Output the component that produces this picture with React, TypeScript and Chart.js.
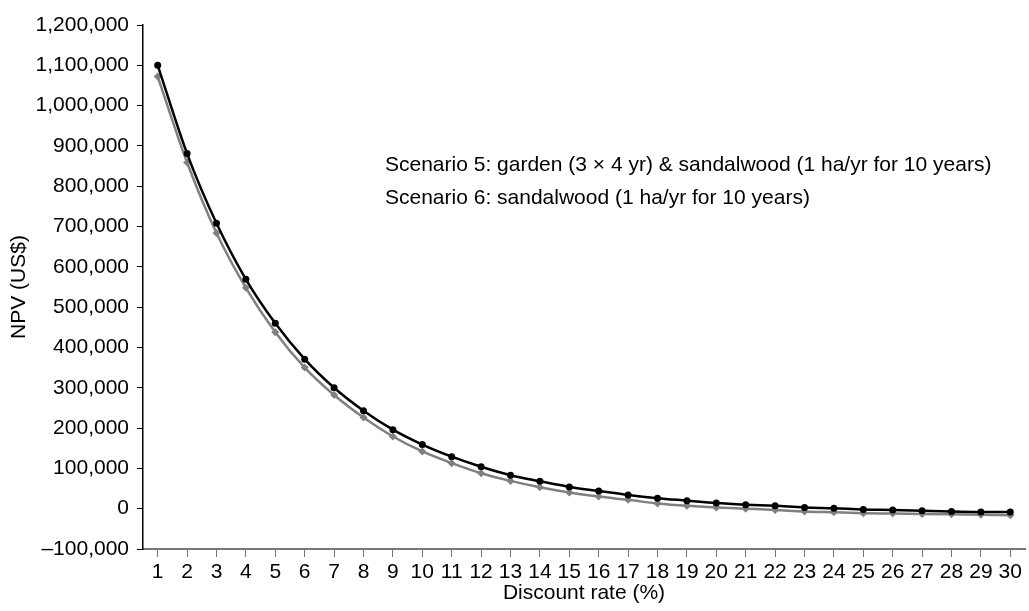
import React, { useEffect, useRef } from "react";
import { Chart, registerables } from "chart.js";

Chart.register(...registerables);

const rates: string[] = Array.from({ length: 30 }, (_, i) => String(i + 1));

const scenario5: number[] = [
  1100000, 881000, 708000, 569000, 460000, 371000, 300000, 243000, 196000, 159000,
  129000, 104000, 83000, 68000, 54000, 44000, 34000, 26000, 20000, 14000,
  10000, 7000, 3000, 1000, -2000, -3000, -5000, -7000, -8000, -8000,
];

const scenario6: number[] = [
  1072000, 859000, 684000, 548000, 438000, 350000, 282000, 226000, 179000, 142000,
  113000, 88000, 69000, 53000, 40000, 30000, 22000, 13000, 7000, 3000,
  0, -3000, -7000, -9000, -11000, -12000, -13000, -14000, -15000, -16000,
];

const legendLabels: string[] = [
  "Scenario 5: garden (3 \u00d7 4 yr) & sandalwood (1 ha/yr for 10 years)",
  "Scenario 6: sandalwood (1 ha/yr for 10 years)",
];

const FONT = "'Liberation Sans', Arial, Helvetica, sans-serif";
const FS = 21;

function fmt(v: number): string {
  const s = Math.abs(v).toLocaleString("en-US");
  return v < 0 ? "\u2013" + s : s;
}

export default function App() {
  const canvasRef = useRef<HTMLCanvasElement | null>(null);

  useEffect(() => {
    document.body.style.margin = "0";
    const canvas = canvasRef.current;
    if (!canvas) return;
    const chart = new Chart(canvas, {
      type: "line",
      data: {
        labels: rates,
        datasets: [
          {
            label: legendLabels[0],
            data: scenario5,
            borderColor: "#000000",
            backgroundColor: "#000000",
            borderWidth: 2.5,
            pointStyle: "circle",
            pointRadius: 3.5,
            pointBorderWidth: 0,
            cubicInterpolationMode: "monotone",
          },
          {
            label: legendLabels[1],
            data: scenario6,
            borderColor: "#808080",
            backgroundColor: "#808080",
            borderWidth: 2.5,
            pointStyle: "rectRot",
            pointRadius: 4,
            pointBorderWidth: 0,
            cubicInterpolationMode: "monotone",
          },
        ],
      },
      options: {
        animation: false,
        responsive: true,
        maintainAspectRatio: false,
        layout: { padding: { top: 25, right: 0, left: 0, bottom: 0 } },
        plugins: {
          legend: { display: false },
          tooltip: { enabled: false },
        },
        scales: {
          x: {
            type: "category",
            offset: true,
            grid: {
              offset: false,
              drawOnChartArea: false,
              drawTicks: true,
              tickLength: 8,
              color: "#777777",
              lineWidth: 1,
            },
            border: { display: true, color: "#777777", width: 2 },
            ticks: {
              color: "#000000",
              font: { family: FONT, size: FS },
              padding: 3,
              maxRotation: 0,
              autoSkip: false,
            },
            title: {
              display: true,
              text: "Discount rate (%)",
              color: "#000000",
              font: { family: FONT, size: FS },
              padding: { top: 0, bottom: 5 },
            },
            afterFit: (scale: any) => {
              scale.height = 62;
            },
          },
          y: {
            type: "linear",
            min: -100000,
            max: 1200000,
            grid: {
              drawOnChartArea: false,
              drawTicks: true,
              tickLength: 6,
              color: "#000000",
              lineWidth: 1,
            },
            border: { display: true, color: "#000000", width: 1.5 },
            ticks: {
              stepSize: 100000,
              color: "#000000",
              font: { family: FONT, size: FS },
              padding: 8,
              callback: (v: any) => fmt(Number(v)),
            },
            title: {
              display: true,
              text: "NPV (US$)",
              color: "#000000",
              font: { family: FONT, size: FS },
              padding: { top: 7, bottom: 0 },
            },
            afterFit: (scale: any) => {
              scale.width = 143;
            },
          },
        },
      },
    });
    return () => chart.destroy();
  }, []);

  return (
    <div style={{ position: "absolute", left: 0, top: 0, width: 1029, height: 611, background: "#ffffff" }}>
      <canvas ref={canvasRef} />
      {legendLabels.map((t, i) => (
        <div
          key={i}
          style={{
            position: "absolute",
            left: 385,
            top: 152 + i * 33,
            fontFamily: FONT,
            fontSize: FS,
            lineHeight: "24px",
            color: "#000000",
            whiteSpace: "nowrap",
          }}
        >
          {t}
        </div>
      ))}
    </div>
  );
}
